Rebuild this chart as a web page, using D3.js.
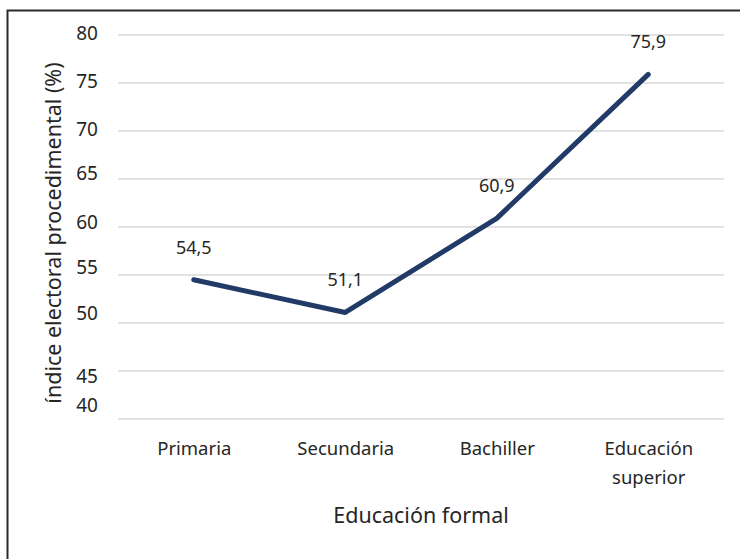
<!DOCTYPE html>
<html>
<head>
<meta charset="utf-8">
<script src="https://cdn.jsdelivr.net/npm/d3@7"></script>
<style>
  html, body { margin: 0; padding: 0; background: #fff; }
  text { font-family: "Noto Sans", "Open Sans", sans-serif; fill: #262626; }
</style>
</head>
<body>
<svg id="chart" width="740" height="559"></svg>
<script>
const categories = ["Primaria", "Secundaria", "Bachiller", "Educación superior"];
const values = [54.5, 51.1, 60.9, 75.9];
const valueLabels = ["54,5", "51,1", "60,9", "75,9"];
const yTicks = [40, 45, 50, 55, 60, 65, 70, 75, 80];
const xTitle = "Educación formal";
const yTitle = "índice electoral procedimental (%)";

// label nudges replicate the reference's slightly irregular tick-label placement
const tickNudge = {40: -14, 45: 5, 50: -10, 55: -8, 60: -5, 65: -6, 70: -1.5, 75: -1.5, 80: -2};

const svg = d3.select("#chart");
const W = 740, H = 559;
const m = {left: 118, right: 16, top: 35, bottom: 140};

svg.append("rect")
  .attr("x", 7.5).attr("y", 10.5).attr("width", 760).attr("height", 600)
  .attr("fill", "none").attr("stroke", "#2b2b2b").attr("stroke-width", 2);

const x = d3.scalePoint().domain(categories).range([m.left, W - m.right]).padding(0.5);
const y = d3.scaleLinear().domain([40, 80]).range([H - m.bottom, m.top]);

// gridlines
svg.append("g").selectAll("line").data(yTicks).join("line")
  .attr("x1", m.left).attr("x2", W - m.right)
  .attr("y1", d => y(d)).attr("y2", d => y(d))
  .attr("stroke", "#d9d9d9").attr("stroke-width", 1.5);

// y tick labels via axis
const yAxis = svg.append("g").attr("transform", `translate(${m.left - 20},0)`)
  .call(d3.axisLeft(y).tickValues(yTicks).tickSize(0).tickPadding(0));
yAxis.select(".domain").remove();
yAxis.selectAll("text")
  .attr("font-size", 19)
  .attr("font-family", "Noto Sans")
  .attr("fill", "#262626")
  .attr("dy", d => (0.32 * 19 + tickNudge[d]) + "px");

// x axis labels
const xAxis = svg.append("g").attr("transform", `translate(0,${y(40)})`)
  .call(d3.axisBottom(x).tickSize(0).tickPadding(0).tickFormat(""));
xAxis.select(".domain").remove();
xAxis.selectAll(".tick").each(function(d) {
  const t = d3.select(this).append("text")
    .attr("text-anchor", "middle")
    .attr("font-size", 18.5)
    .attr("fill", "#262626");
  const words = d === "Educación superior" ? ["Educación", "superior"] : [d];
  words.forEach((w, i) => {
    t.append("tspan").attr("x", 0).attr("y", 36 + i * 29).text(w);
  });
});

// line
const line = d3.line().x((d, i) => x(categories[i])).y(d => y(d));
svg.append("path").datum(values)
  .attr("d", line)
  .attr("fill", "none")
  .attr("stroke", "#223a67")
  .attr("stroke-width", 5)
  .attr("stroke-linejoin", "round")
  .attr("stroke-linecap", "round");

// data labels
svg.append("g").selectAll("text").data(values).join("text")
  .attr("x", (d, i) => x(categories[i]))
  .attr("y", d => y(d) - 26)
  .attr("text-anchor", "middle")
  .attr("font-size", 18)
  .text((d, i) => valueLabels[i]);

// axis titles
svg.append("text")
  .attr("x", 421).attr("y", 523)
  .attr("text-anchor", "middle")
  .attr("font-size", 21.5)
  .text(xTitle);

svg.append("text")
  .attr("transform", `translate(61,233) rotate(-90)`)
  .attr("text-anchor", "middle")
  .attr("font-size", 21.5)
  .text(yTitle);
</script>
</body>
</html>
